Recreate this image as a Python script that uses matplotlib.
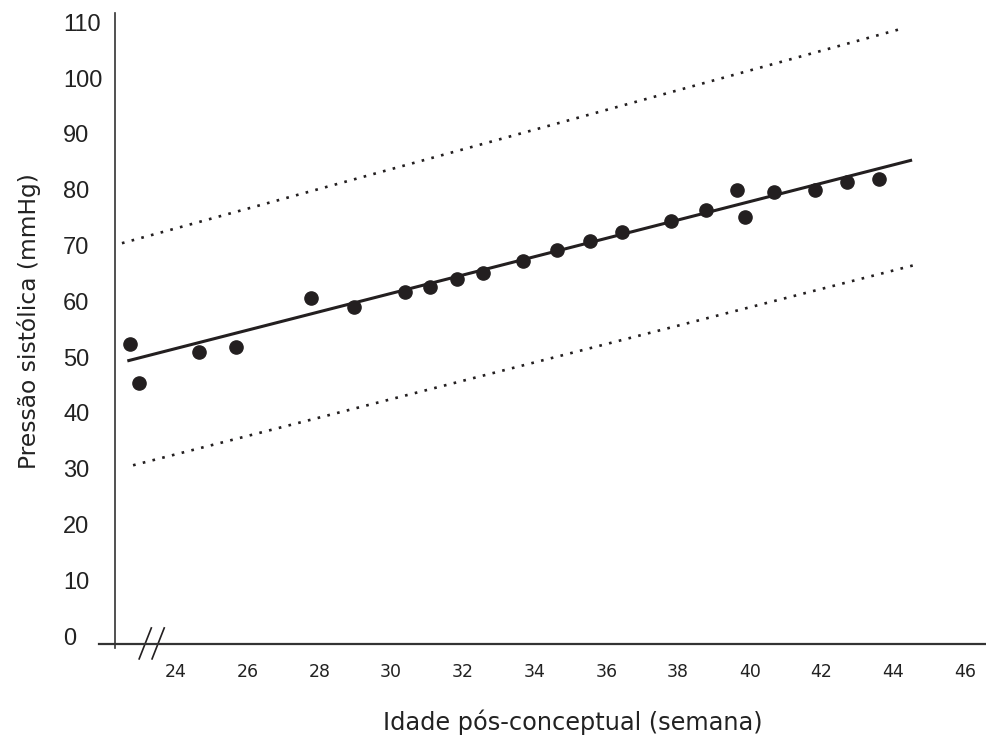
import matplotlib
matplotlib.use('Agg')
import matplotlib.pyplot as plt
import numpy as np

# semanas pós-conceptuais e pressão sistólica (mmHg)
idade = [22.72, 22.97, 24.64, 25.67, 27.77, 28.97, 30.39, 31.08, 31.84, 32.56,
         33.68, 34.63, 35.55, 36.44, 37.81, 38.78, 39.65, 39.87, 40.68, 41.82,
         42.72, 43.61]
pressao = [52.3, 45.3, 50.9, 51.8, 60.6, 59.0, 61.6, 62.5, 64.0, 65.1,
           67.2, 69.2, 70.8, 72.4, 74.4, 76.3, 79.9, 75.1, 79.6, 79.9,
           81.4, 81.9]

# reta de regressão e limites (extremos)
reta_x = [22.64, 44.53]
reta_y = [49.3, 85.3]
sup_x = [22.49, 44.33]
sup_y = [70.4, 109.0]
inf_x = [22.80, 44.61]
inf_y = [30.6, 66.5]

xticks = list(range(24, 47, 2))
yticks = list(range(0, 111, 10))

cor = '#231f20'

fig = plt.figure(figsize=(9.87, 7.44), dpi=100)
ax = fig.add_axes([0.1003, 0.129, 0.8997, 0.8535])

ax.plot(sup_x, sup_y, color=cor, lw=1.9, linestyle=(0, (1, 2.8)))
ax.plot(inf_x, inf_y, color=cor, lw=1.9, linestyle=(0, (1, 2.8)))
ax.plot(reta_x, reta_y, color=cor, lw=2.2, solid_capstyle='butt')
ax.plot(idade, pressao, 'o', color=cor, ms=9.5, ls='none')

ax.set_xlim(21.85, 46.62)
ax.set_ylim(-2.15, 111.65)

for s in ['top', 'right']:
    ax.spines[s].set_visible(False)
ax.spines['bottom'].set_position(('data', -1.43))
ax.spines['left'].set_position(('data', 22.30))
ax.spines['bottom'].set_linewidth(1.6)
ax.spines['left'].set_linewidth(1.2)
ax.spines['bottom'].set_color('#333333')
ax.spines['left'].set_color('#333333')

# quebra do eixo x
for x0 in [22.97, 23.33]:
    ax.plot([x0, x0 + 0.34], [-4.1, 1.45], color=cor, lw=1.2, clip_on=False)

ax.set_xticks(xticks)
ax.set_xticklabels([str(t) for t in xticks], fontsize=12.5, color='#222222',
                   family='DejaVu Sans')
ax.tick_params(axis='x', length=0, pad=14)

ax.set_yticks(yticks)
ax.set_yticklabels([str(t) for t in yticks], fontsize=17, color='#222222',
                   family='Liberation Sans', ha='left')
ax.tick_params(axis='y', length=0, pad=37.5)

fig.text(573 / 987, 1 - 730 / 744, 'Idade pós-conceptual (semana)',
         ha='center', va='baseline', fontsize=17.3, color='#222222',
         family='DejaVu Sans')
fig.text(29 / 987, 1 - 321 / 744, 'Pressão sistólica (mmHg)',
         ha='center', va='center', rotation=90, fontsize=16.8, color='#222222',
         family='DejaVu Sans')

fig.savefig('out.png', dpi=100)
